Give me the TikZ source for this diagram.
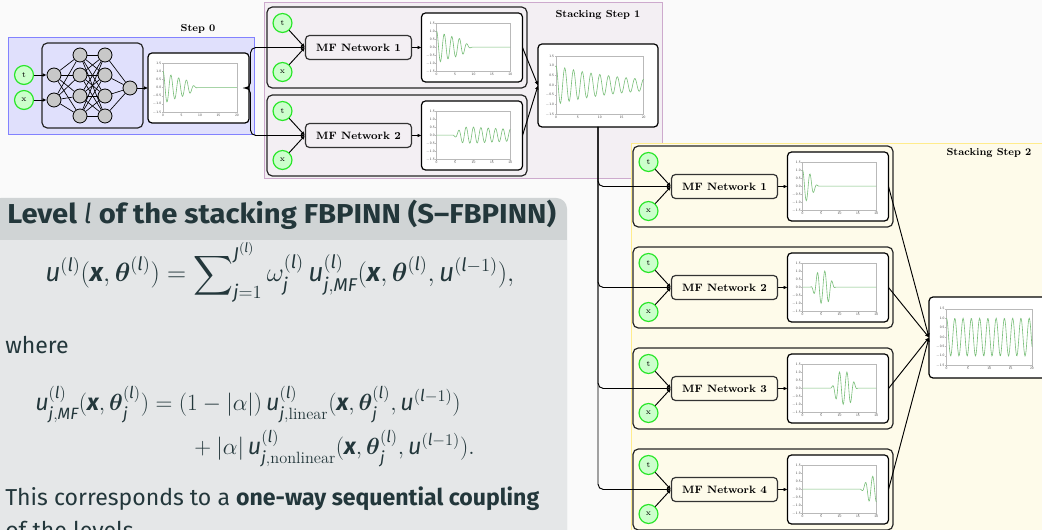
\RequirePackage{fix-cm}
\documentclass[tikz,border=0pt]{standalone}
\usepackage{amsmath}
\usepackage{fontspec}
\newfontfamily\fira{Fira Sans}
\newfontfamily\firawide{Fira Sans}[FakeStretch=1.07]
\usetikzlibrary{arrows.meta}
\definecolor{pagebg}{RGB}{250,250,250}
\definecolor{mteal}{RGB}{35,55,59}
\definecolor{blockhead}{RGB}{208,212,213}
\definecolor{blockbody}{RGB}{229,231,232}
\definecolor{sZfill}{RGB}{224,224,252}
\definecolor{sZdraw}{RGB}{130,130,255}
\definecolor{sAfill}{RGB}{243,239,243}
\definecolor{sAdraw}{RGB}{205,170,205}
\definecolor{sBfill}{RGB}{254,251,234}
\definecolor{sBdraw}{RGB}{255,236,140}
\definecolor{ingreen}{RGB}{40,230,40}
\definecolor{infill}{RGB}{204,255,204}
\definecolor{curvegreen}{RGB}{120,190,120}
\definecolor{axisgray}{RGB}{185,185,185}
\definecolor{neurongray}{RGB}{200,200,200}
\newcommand\mi[1]{\text{\fira\mdseries\itshape #1}}
\newcommand\mb[1]{\text{\fira\bfseries\itshape #1}}
\newcommand\bth{\boldsymbol{\theta}}
\newcommand\plotbox[6]{%
  \pgfmathsetmacro\bxa{#2}\pgfmathsetmacro\bya{#3}%
  \pgfmathsetmacro\bxb{#4}\pgfmathsetmacro\byb{#5}%
  \pgfmathsetmacro\fxa{\bxa+0.15*(\bxb-\bxa)}%
  \pgfmathsetmacro\fxb{\bxa+0.88*(\bxb-\bxa)}%
  \pgfmathsetmacro\fya{\bya+0.145*(\byb-\bya)}%
  \pgfmathsetmacro\fyb{\bya+0.845*(\byb-\bya)}%
  \pgfmathsetmacro\fxs{(\fxb-\fxa)/20}%
  \pgfmathsetmacro\fym{(\fya+\fyb)/2}%
  \pgfmathsetmacro\fyh{(\fyb-\fya)/3}%
  \node[plotbg, minimum width={(\bxb-\bxa)*0.75pt}, minimum height={(\byb-\bya)*0.75pt}] (#1) at ({(\bxa+\bxb)/2},{(\bya+\byb)/2}) {};
  \draw[axisframe] (\fxa,\fya) rectangle (\fxb,\fyb);
  \foreach \v/\lab in {1.5/1.5,1.0/1.0,0.5/0.5,0.0/0.0,-0.5/$-$0.5,-1.0/$-$1.0,-1.5/$-$1.5}{%
    \draw[axisframe] (\fxa,{\fym-(\v)*\fyh}) -- ++(-1.2,0);
    \node[ticklbl, anchor=east] at (\fxa-1.2,{\fym-(\v)*\fyh}) {\lab};}
  \foreach \v in {0,5,10,15,20}{%
    \draw[axisframe] ({\fxa+\v*\fxs},\fyb) -- ++(0,1.2);
    \node[ticklbl, anchor=north] at ({\fxa+\v*\fxs},\fyb+1.2) {\v};}
  \draw[curveline] plot[domain=0:20, samples=161, variable=\x] ({\fxa+\x*\fxs},{\fym-(#6)*\fyh});
}
\newcommand\mfunit[5]{%
  \draw[grp] (#2,#3) rectangle ++(260,81);
  \node[inp] (t#1) at (#2+15.5,#3+16) {t};
  \node[inp] (x#1) at (#2+15.5,#3+65) {x};
  \node[mfbox] (mf#1) at (#2+91.5,#3+40.5) {MF Network #4};
  \plotbox{p#1}{#2+154.5}{#3+6}{#2+255.5}{#3+75}{#5}
  \draw[arr] (t#1) -- (mf#1.west);
  \draw[arr] (x#1) -- (mf#1.west);
  \draw[arr] (mf#1) -- (p#1);
}
\begin{document}
\begin{tikzpicture}[x=0.75pt,y=-0.75pt,
  declare function={cl(\q)=min(max(\q,0),1); sm(\q,\ql,\qr)=cl((\q-\ql)/(\qr-\ql))^2*(3-2*cl((\q-\ql)/(\qr-\ql)));},
  inp/.style={circle, draw=ingreen, fill=infill, line width=0.9pt, minimum size=14.2pt, inner sep=0pt, font=\fontsize{6}{7}\selectfont},
  neuron/.style={circle, draw=black, fill=neurongray, line width=0.6pt, minimum size=10.5pt, inner sep=0pt},
  nnedge/.style={draw=black, line width=0.5pt},
  mfbox/.style={draw=black!80, rounded corners=3pt, line width=0.9pt, minimum width=79.5pt, minimum height=18pt, inner sep=0pt, font=\bfseries\fontsize{8}{9.6}\selectfont},
  grp/.style={draw=black!85, rounded corners=4pt, line width=0.9pt},
  plotbg/.style={draw=black, fill=white, rounded corners=3pt, line width=0.9pt, inner sep=0pt, outer sep=0pt},
  axisframe/.style={draw=axisgray, line width=0.3pt},
  ticklbl/.style={inner sep=0.4pt, font=\sffamily\fontsize{2.6}{3}\selectfont, text=black!70},
  curveline/.style={draw=curvegreen, line width=0.45pt},
  arr/.style={draw=black, line width=0.7pt, -{Latex[length=3pt,width=2.8pt]}},
  steplbl/.style={font=\bfseries\fontsize{7.6}{9}\selectfont, inner sep=0pt},
  txt/.style={font=\fira\fontsize{17.3}{20}\selectfont, text=mteal, inner sep=0pt},
  mathtxt/.style={font=\fira\fontsize{17.5}{20}\selectfont, text=mteal, inner sep=0pt},
]
\useasboundingbox (0,0) rectangle (1042,530);
\clip (0,0) rectangle (1042,530);
\fill[pagebg] (0,0) rectangle (1042,530);
% left block
\fill[blockhead, rounded corners=8pt] (-10,198) rectangle (567,600);
\fill[blockbody] (-10,240) rectangle (567,600);
\node[txt, font=\firawide\bfseries\fontsize{20.5}{24}\selectfont, anchor=base west] (title) at (7,224) {Level $\mi{l}$ of the stacking FBPINN (S–FBPINN)};
\node[mathtxt, font=\fira\fontsize{19.8}{22}\selectfont, anchor=base west] (eqa) at (45,282) {$\displaystyle \mi{u}^{(\mi{l})}(\mb{x},\bth^{(\mi{l})}) = \sum\nolimits_{\mi{j}=1}^{\mi{J}^{(\mi{l})}} \omega_{\mi{j}}^{(\mi{l})}\,\mi{u}^{(\mi{l})}_{\mi{j},\mi{MF}}(\mb{x},\bth^{(\mi{l})},\mi{u}^{(\mi{l}-1)}),$};
\node[txt, anchor=base west] (where) at (5,354) {where};
\node[mathtxt, anchor=base west] (eqb) at (35,411) {$\displaystyle \mi{u}^{(\mi{l})}_{\mi{j},\mi{MF}}(\mb{x},\bth_{\mi{j}}^{(\mi{l})}) = (1-|\alpha|)\,\mi{u}^{(\mi{l})}_{\mi{j},\mathrm{linear}}(\mb{x},\bth^{(\mi{l})}_{\mi{j}},\mi{u}^{(\mi{l}-1)})$};
\node[mathtxt, anchor=base west] (eqc) at (189,455) {$\displaystyle {}+|\alpha|\,\mi{u}^{(\mi{l})}_{\mi{j},\mathrm{nonlinear}}(\mb{x},\bth^{(\mi{l})}_{\mi{j}},\mi{u}^{(\mi{l}-1)}).$};
\node[txt, anchor=base west] (txta) at (5,505) {This corresponds to a \textbf{one-way sequential coupling}};
\node[txt, anchor=base west] (txtb) at (5,538) {of the levels.};
% step frames
\draw[sZdraw, fill=sZfill, line width=0.6pt] (8,37) rectangle (254,134);
\draw[sAdraw, fill=sAfill, line width=0.6pt] (264,2.5) rectangle (662,178);
\draw[sBdraw, fill=sBfill, line width=0.6pt] (631,143) rectangle (1050,540);
\node[steplbl] (lblZ) at (198,29) {Step 0};
\node[steplbl] (lblA) at (598,15) {Stacking Step 1};
\node[steplbl] (lblB) at (989,153) {Stacking Step 2};
% step 0
\draw[grp] (42,43) rectangle (143,128);
\node[neuron] (a1) at (54,75) {};
\node[neuron] (a2) at (54,100) {};
\foreach \i/\y in {1/55,2/75,3/96,4/116}{
  \node[neuron] (b\i) at (80,\y) {};
  \node[neuron] (c\i) at (105,\y) {};}
\node[neuron] (o) at (130,88) {};
\foreach \i in {1,2}{\foreach \j in {1,...,4}{\draw[nnedge] (a\i) -- (b\j);}}
\foreach \i in {1,...,4}{\foreach \j in {1,...,4}{\draw[nnedge] (b\i) -- (c\j);}\draw[nnedge] (c\i) -- (o);}
\node[inp] (t0) at (24,75) {t};
\node[inp] (x0) at (24,100) {x};
\draw[arr] (t0) -- (a1);
\draw[arr] (x0) -- (a2);
\plotbox{p0}{148}{53}{249}{123}{exp(-0.12*\x)*cos(171*\x)*(1-sm(\x,6.5,9.5))}
\draw[arr] (o) -- (p0);
% stacking step 1
\mfunit{A}{267}{7}{1}{exp(-0.1*\x)*cos(175*\x)*(1-sm(\x,6.5,9.8))}
\mfunit{B}{267}{95}{2}{0.5*sm(\x,4,7.5)*cos(180*\x)*exp(-0.03*max(\x-10,0))}
\plotbox{outA}{538}{44}{658}{127}{exp(-0.06*\x)*cos(180*\x)}
\draw[arr, rounded corners=4pt] (p0.east) -- ++(1.5,0) |- (mfA.west);
\draw[arr, rounded corners=4pt] (p0.east) -- ++(1.5,0) |- (mfB.west);
\draw[arr] (pA.east) -- (outA.west);
\draw[arr] (pB.east) -- (outA.west);
% stacking step 2
\mfunit{C}{633}{146}{1}{cos(180*\x)*(1-sm(\x,1.5,4.5))*exp(-0.1*\x)}
\mfunit{D}{633}{247}{2}{cos(180*\x)*sm(\x,2,4.5)*(1-sm(\x,6.5,9))}
\mfunit{E}{633}{348}{3}{cos(180*\x)*sm(\x,7.5,10)*(1-sm(\x,12.5,15))}
\mfunit{F}{633}{449}{4}{-0.8*cos(180*\x)*sm(\x,15.5,18.5)}
\plotbox{outB}{929}{297}{1046}{378}{cos(186*\x)}
\foreach \u in {C,D,E,F}{\draw[arr, rounded corners=4pt] (outA.south) |- (mf\u.west);}
\foreach \u in {C,D,E,F}{\draw[arr] (p\u.east) -- (outB.west);}
\end{tikzpicture}
\end{document}
